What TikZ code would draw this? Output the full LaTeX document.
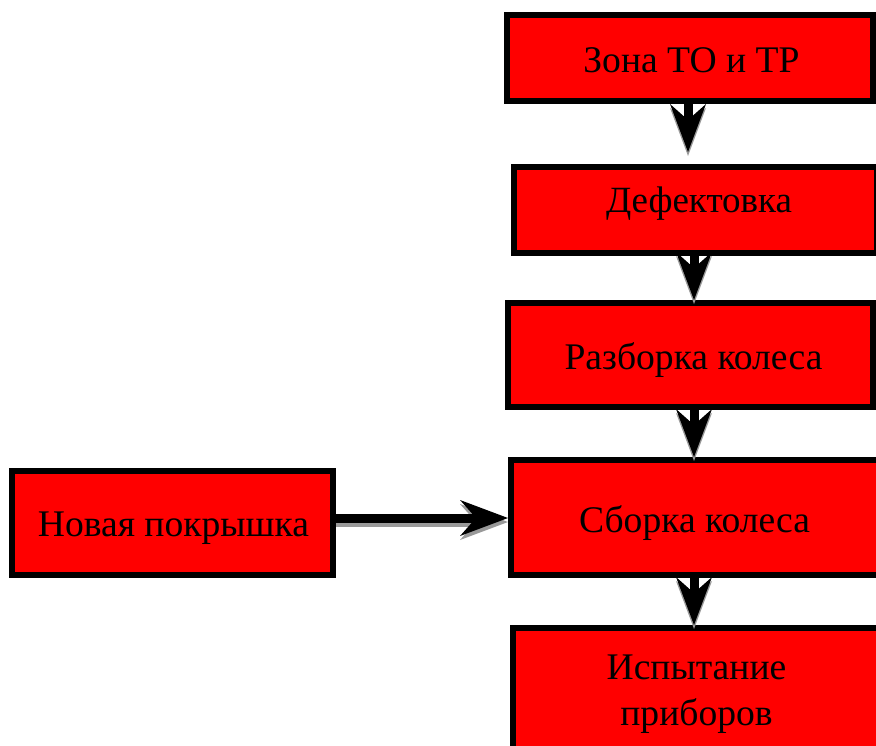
\documentclass[tikz,border=0pt]{standalone}
\usepackage{fontspec}
\setmainfont{Liberation Serif}
\usetikzlibrary{arrows.meta,calc}
\begin{document}
\begin{tikzpicture}[x=1pt,y=-1pt,
  box/.style={draw=black,fill=red,line width=6pt,inner sep=0pt,rectangle},
  lbl/.style={inner sep=0pt,anchor=base,font=\fontsize{37.6}{44}\selectfont,text=black},
  arr/.style={line width=9pt,draw=black,-{Stealth[length=48pt,width=36pt,inset=16pt,line width=0pt]}},
  arrsh/.style={line width=9pt,draw=black!40,-{Stealth[length=48pt,width=36pt,inset=16pt,line width=0pt]}}]
\useasboundingbox (0,0) rectangle (876,745);
% boxes
\node[box,minimum width=366pt,minimum height=86pt] (b1) at (690,58) {};
\node[box,minimum width=363pt,minimum height=86pt] (b2) at (695.5,210) {};
\node[box,minimum width=365pt,minimum height=104pt] (b3) at (690.5,355) {};
\node[box,minimum width=368pt,minimum height=115pt] (b4) at (695,517.5) {};
\node[box,minimum width=366pt,minimum height=129pt] (b5) at (696,692.5) {};
\node[box,minimum width=321pt,minimum height=104pt] (b6) at (172.5,523) {};
% labels
\node[lbl] (t1) at (691.5,72) {Зона ТО и ТР};
\node[lbl,font=\fontsize{37}{44}\selectfont] (t2) at (699,212) {Дефектовка};
\node[lbl] (t3) at (693.5,369) {Разборка колеса};
\node[lbl] (t4) at (694.5,532) {Сборка колеса};
\node[lbl] (t5a) at (696.5,679) {Испытание};
\node[lbl] (t5b) at (696.5,725) {приборов};
\node[lbl] (t6) at (173.5,536) {Новая покрышка};
% arrow axes
\coordinate (x1) at (688,0);
\coordinate (x2) at (694,0);
\coordinate (yh) at (0,518);
% shadows
\draw[arrsh] ([yshift=-4pt]b1.south -| x1) -- ([yshift=8pt]b2.north -| x1);
\draw[arrsh] ([yshift=-4pt]b2.south -| x2) -- ([yshift=-4pt]b3.north -| x2);
\draw[arrsh] ([yshift=-4pt]b3.south -| x2) -- ([yshift=-4pt]b4.north -| x2);
\draw[arrsh] ([yshift=-4pt]b4.south -| x2) -- ([yshift=-4pt]b5.north -| x2);
\draw[arrsh] ([yshift=-4pt]b6.east |- yh) -- ([yshift=-4pt]b4.west |- yh);
% arrows
\draw[arr] (b1.south -| x1) -- ([yshift=12pt]b2.north -| x1);
\draw[arr] (b2.south -| x2) -- (b3.north -| x2);
\draw[arr] (b3.south -| x2) -- (b4.north -| x2);
\draw[arr] (b4.south -| x2) -- (b5.north -| x2);
\draw[arr] (b6.east |- yh) -- (b4.west |- yh);
\end{tikzpicture}
\end{document}
